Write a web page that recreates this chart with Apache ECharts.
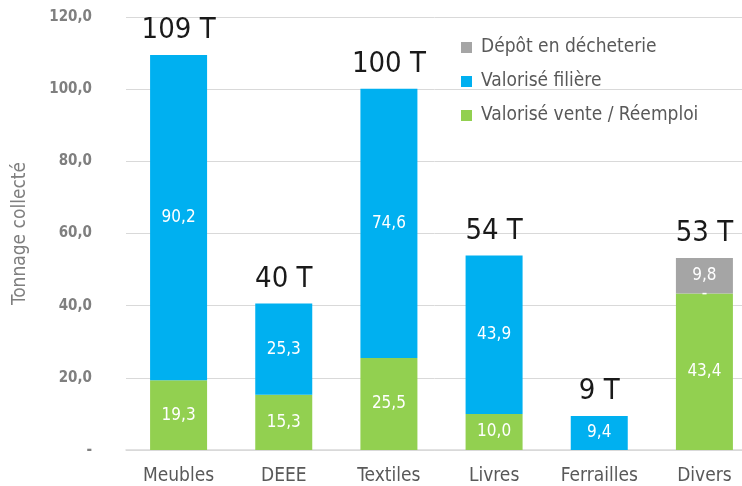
<!DOCTYPE html>
<html>
<head>
<meta charset="utf-8">
<script src="https://cdn.jsdelivr.net/npm/echarts@6/dist/echarts.min.js"></script>
<style>
  html, body { margin: 0; padding: 0; background: #fff; }
  #chart { width: 742px; height: 486px; }
</style>
</head>
<body>
<div id="chart"></div>
<script>
// données
const categories = ['Meubles', 'DEEE', 'Textiles', 'Livres', 'Ferrailles', 'Divers']
const vente = [19.3, 15.3, 25.5, 10.0, 0, 43.4]
const filiere = [90.2, 25.3, 74.6, 43.9, 9.4, 0]
const depot = [0, 0, 0, 0, 0, 9.8]
const totals = ['109 T', '40 T', '100 T', '54 T', '9 T', '53 T']
const blank = [0, 0, 0, 0, 0, 0]

const FONT = '"DejaVu Sans Condensed", "Liberation Sans Narrow", sans-serif'
const fmt = v => v.toFixed(1).replace('.', ',')

const segLabel = (zeroText) => ({
  show: true,
  position: 'inside',
  color: '#fff',
  fontFamily: FONT,
  fontSize: 17,
  formatter: p => (p.value === 0 ? zeroText : fmt(p.value))
})

const chart = echarts.init(document.getElementById('chart'))
chart.setOption({
  animation: false,
  grid: { left: 126, top: 17, width: 631, height: 433, outerBoundsMode: 'none' },
  legend: {
    orient: 'vertical',
    left: 456,
    top: 33,
    icon: 'rect',
    itemWidth: 11,
    itemHeight: 11,
    itemGap: 15,
    data: ['Dépôt en décheterie', 'Valorisé filière', 'Valorisé vente / Réemploi'],
    textStyle: { color: '#595959', fontFamily: FONT, fontSize: 19, padding: [0, 0, 0, 4] }
  },
  xAxis: {
    type: 'category',
    data: categories,
    axisTick: { show: false },
    axisLine: { lineStyle: { color: '#d9d9d9', width: 1.5 } },
    axisLabel: { color: '#595959', fontFamily: FONT, fontSize: 19, margin: 17 }
  },
  yAxis: {
    type: 'value',
    min: 0,
    max: 120,
    interval: 20,
    name: 'Tonnage collecté',
    nameLocation: 'middle',
    nameGap: 96,
    nameTextStyle: { color: '#7f7f7f', fontFamily: FONT, fontSize: 19 },
    axisLabel: {
      color: '#7f7f7f',
      fontFamily: FONT,
      fontWeight: 'bold',
      fontSize: 15,
      margin: 34,
      formatter: v => (v === 0 ? '-' : fmt(v))
    },
    splitLine: { lineStyle: { color: '#d9d9d9' } }
  },
  series: [
    {
      name: 'Valorisé vente / Réemploi',
      type: 'bar',
      stack: 'total',
      barWidth: 57,
      data: vente,
      itemStyle: { color: '#92d050' },
      label: segLabel('')
    },
    {
      name: 'Valorisé filière',
      type: 'bar',
      stack: 'total',
      data: filiere,
      itemStyle: { color: '#00b0f0' },
      label: segLabel('-')
    },
    {
      name: 'Dépôt en décheterie',
      type: 'bar',
      stack: 'total',
      data: depot,
      itemStyle: { color: '#a5a5a5' },
      label: segLabel('')
    },
    {
      name: 'Total',
      type: 'bar',
      stack: 'total',
      data: blank,
      itemStyle: { color: 'transparent' },
      label: {
        show: true,
        position: 'top',
        distance: 10,
        color: '#1a1a1a',
        fontFamily: '"Liberation Sans Narrow", "DejaVu Sans Condensed", sans-serif',
        fontSize: 29,
        formatter: p => totals[p.dataIndex]
      }
    }
  ]
})
</script>
</body>
</html>
